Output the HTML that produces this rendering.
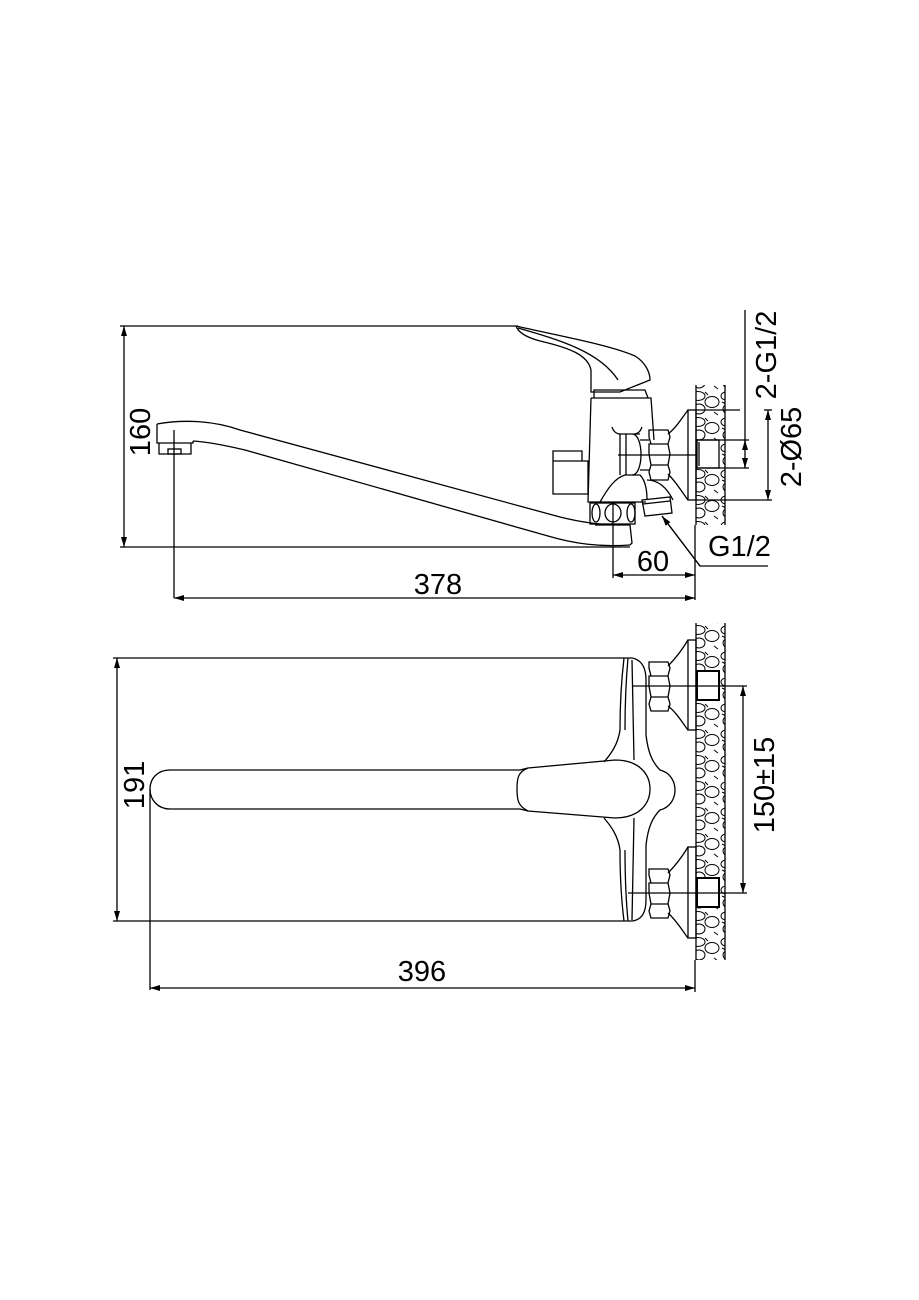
<!DOCTYPE html>
<html><head><meta charset="utf-8"><style>
html,body{margin:0;padding:0;background:#fff}
svg{display:block}
text{font-family:"Liberation Sans",sans-serif;font-size:29px;fill:#000}
</style></head><body>
<svg width="919" height="1300" viewBox="0 0 919 1300" xmlns="http://www.w3.org/2000/svg">
<defs>
<marker id="a" viewBox="0 0 10 6" refX="10" refY="3" markerWidth="10" markerHeight="6" orient="auto-start-reverse" markerUnits="userSpaceOnUse"><path d="M0,0L10,3L0,6z" fill="#000"/></marker>
<pattern id="st" width="30" height="26" patternUnits="userSpaceOnUse">
<ellipse cx="8" cy="6" rx="7" ry="4.5" fill="none" stroke="#000" stroke-width="1"/>
<ellipse cx="22" cy="12" rx="7" ry="5.5" fill="none" stroke="#000" stroke-width="1"/>
<ellipse cx="9" cy="19" rx="6" ry="5" fill="none" stroke="#000" stroke-width="1"/>
<path d="M2,12 L6,14 M15,2 L18,5 M24,22 L28,25" stroke="#000" stroke-width="1"/>
</pattern>
</defs>
<g fill="none" stroke="#000" stroke-width="1.3">
<!-- TOP VIEW -->
<!-- dim 160 -->
<line x1="124" y1="326" x2="124" y2="547" marker-start="url(#a)" marker-end="url(#a)"/>
<line x1="120" y1="326" x2="518" y2="326"/>
<line x1="120" y1="547" x2="630" y2="547"/>
<!-- spout -->
<path d="M157,424 C185,419 215,421 240,430 L560,517 C580,522 598,525 620,525"/>
<path d="M193,441 C210,442 228,446 245,450 L548,536 C575,544 600,547 630,545"/>
<path d="M157,424 L157,443 L193,443 L193,441"/>
<path d="M159,443 L159,454 L191,454 L191,443"/>
<rect x="168" y="449" width="13" height="5"/>
<line x1="174" y1="430" x2="174" y2="598"/>
<path d="M595,525 L630,525 L632,543 L630,545"/>
<!-- body -->
<path d="M591,398 L651,398 L654,440 M591,398 L588,502 L646,502"/>
<path d="M594,398 L594,390 L645,390 L648,398"/>
<path d="M516,326 C560,336 610,345 635,356 C645,362 650,372 650,380 L620,392 L591,392 L591,370 C588,355 570,348 540,341 C525,337 518,332 516,326"/>
<path d="M518,328 C560,340 600,352 618,380"/>
<path d="M553,451 L582,451 L582,461 L553,461 Z M553,461 L588,461 L588,494 L553,494 Z"/>
<path d="M600,502 C608,488 615,478 625,475 L640,475 C645,480 647,490 647,500"/>
<path d="M620,434 L620,475 M626,434 L626,475 M632,434 C644,434 644,475 632,475 M620,434 L640,434"/>
<path d="M612,427 C614,433 618,434 620,434 M642,427 C640,433 636,434 634,434"/>
<line x1="618" y1="455" x2="700" y2="455"/>
<path d="M649,430 L652,430 L668,430 L670,437 L668,444 L651,444 L649,437 Z M649,444 L668,444 L670,454 L668,465 L651,465 L649,454 Z M651,465 L668,465 L670,472 L668,480 L651,480 L649,472 Z"/>
<path d="M640,440 L649,440 M640,470 L649,470"/>
<path d="M668,434 C676,428 682,418 688,410 M668,474 C676,482 682,492 688,500"/>
<rect x="688" y="410" width="8" height="90"/>
<path d="M642,500 L670,497 L672,513 L645,516 Z M643,504 L670,501"/>
<path d="M647,480 C660,480 668,490 673,500"/>
<rect x="590" y="503" width="45" height="21"/>
<ellipse cx="596" cy="513" rx="4" ry="9"/><ellipse cx="613" cy="513" rx="8" ry="9"/><ellipse cx="631" cy="513" rx="4" ry="9"/>
<!-- wall top -->
<rect x="696" y="385" width="29" height="140" fill="url(#st)" stroke="none"/>
<line x1="696" y1="385" x2="696" y2="525"/><line x1="725" y1="385" x2="725" y2="525"/>
<rect x="697" y="440" width="22" height="28" fill="#fff"/>
<line x1="699" y1="442" x2="699" y2="466"/>
<!-- dims right -->
<line x1="696" y1="410" x2="740" y2="410"/>
<line x1="696" y1="500" x2="772" y2="500"/>
<line x1="696" y1="440" x2="749" y2="440"/>
<line x1="696" y1="468" x2="749" y2="468"/>
<line x1="745" y1="310" x2="745" y2="468" />
<line x1="745" y1="448" x2="745" y2="440" marker-end="url(#a)"/>
<line x1="745" y1="458" x2="745" y2="468" marker-end="url(#a)"/>
<line x1="768" y1="410" x2="768" y2="500" marker-start="url(#a)" marker-end="url(#a)"/>
<line x1="764" y1="410" x2="772" y2="410"/>
<!-- dim 60 & 378 -->
<line x1="613" y1="503" x2="613" y2="578"/>
<line x1="695" y1="525" x2="695" y2="600"/>
<line x1="613" y1="575" x2="695" y2="575" marker-start="url(#a)" marker-end="url(#a)"/>
<line x1="174" y1="598" x2="695" y2="598" marker-start="url(#a)" marker-end="url(#a)"/>
<path d="M768,566 L700,566 L662,516" />
<line x1="700" y1="566" x2="662" y2="516" marker-end="url(#a)"/>

<!-- BOTTOM VIEW -->
<line x1="117" y1="658" x2="117" y2="921" marker-start="url(#a)" marker-end="url(#a)"/>
<line x1="113" y1="658" x2="632" y2="658"/>
<line x1="113" y1="921" x2="632" y2="921"/>
<path d="M632,658 C642,660 646,668 646,680 L646,735 C648,752 652,762 660,770 C680,775 680,805 660,810 C652,818 648,828 646,845 L646,900 C646,912 642,920 632,921"/>
<path d="M624,658 C622,675 620,700 620,730 C618,745 610,755 604,762 M624,921 C622,905 620,880 620,850 C618,835 610,825 604,818"/>
<path d="M628,658 C626,680 625,710 625,730 M628,921 C626,900 625,870 625,850"/>
<path d="M632,660 L634,760 M632,920 L634,818"/>
<path d="M170,770 L520,770 L528,768 L615,760 C640,760 650,775 650,789 C650,803 640,818 615,818 L528,811 L520,809 L170,809 C158,809 150,800 150,789 C150,778 158,770 170,770"/>
<path d="M528,768 C518,772 517,778 517,789 C517,800 518,806 528,811"/>
<line x1="150" y1="789" x2="150" y2="990"/>
<path d="M649,662 L668,662 L670,668 L668,676 L651,676 L649,668 Z M649,676 L668,676 L670,686 L668,697 L651,697 L649,686 Z M651,697 L668,697 L670,704 L668,711 L651,711 L649,704 Z"/>
<path d="M649,869 L668,869 L670,875 L668,883 L651,883 L649,875 Z M649,883 L668,883 L670,893 L668,904 L651,904 L649,893 Z M651,904 L668,904 L670,911 L668,918 L651,918 L649,911 Z"/>
<path d="M668,666 C676,658 682,650 688,640 M668,706 C676,712 682,722 688,730"/>
<path d="M668,873 C676,865 682,857 688,847 M668,913 C676,920 682,930 688,938"/>
<rect x="688" y="640" width="8" height="90"/><rect x="688" y="847" width="8" height="91"/>
<rect x="696" y="623" width="29" height="337" fill="url(#st)" stroke="none"/>
<line x1="696" y1="623" x2="696" y2="960"/><line x1="725" y1="623" x2="725" y2="960"/>
<rect x="697" y="671" width="22" height="29" fill="#fff" stroke-width="2"/>
<rect x="697" y="878" width="22" height="29" fill="#fff" stroke-width="2"/>
<line x1="632" y1="686" x2="747" y2="686"/>
<line x1="628" y1="893" x2="747" y2="893"/>
<line x1="743" y1="686" x2="743" y2="893" marker-start="url(#a)" marker-end="url(#a)"/>
<line x1="695" y1="960" x2="695" y2="992"/>
<line x1="150" y1="988" x2="695" y2="988" marker-start="url(#a)" marker-end="url(#a)"/>
</g>
<text x="438" y="594" text-anchor="middle">378</text>
<text x="653" y="571" text-anchor="middle">60</text>
<text x="708" y="556">G1/2</text>
<text x="422" y="981" text-anchor="middle">396</text>
<text transform="translate(150,432) rotate(-90)" text-anchor="middle">160</text>
<text transform="translate(144,785) rotate(-90)" text-anchor="middle">191</text>
<text transform="translate(776,355) rotate(-90)" text-anchor="middle">2-G1/2</text>
<text transform="translate(801,447) rotate(-90)" text-anchor="middle">2-Ø65</text>
<text transform="translate(774,785) rotate(-90)" text-anchor="middle">150±15</text>
</svg>
</body></html>
